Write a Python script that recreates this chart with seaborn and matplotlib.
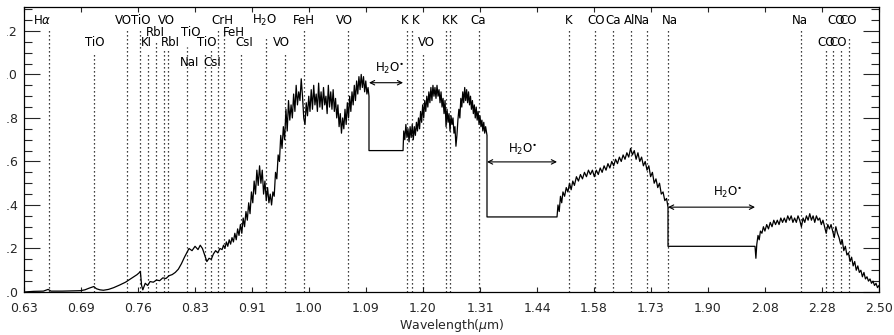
import numpy as np
import pandas as pd
import matplotlib
matplotlib.use("Agg")
import matplotlib.pyplot as plt
from matplotlib.transforms import Bbox, TransformedBbox
import seaborn as sns

# ---------------- data ----------------
# optical segment 0.63-1.10 um
wave_opt = [0.630, 0.640, 0.650, 0.655, 0.658, 0.670, 0.680, 0.690, 0.695, 0.700, 0.705, 0.708,
            0.712, 0.716, 0.722, 0.728, 0.735, 0.742, 0.748, 0.752, 0.756, 0.759, 0.760, 0.7615,
            0.763, 0.766, 0.769, 0.772, 0.776, 0.780, 0.784, 0.788, 0.792, 0.796, 0.800, 0.804,
            0.808, 0.812, 0.816, 0.819, 0.822, 0.826, 0.830, 0.834, 0.837, 0.840, 0.843, 0.846,
            0.849, 0.852, 0.855, 0.858, 0.861, 0.864, 0.867,
            0.869, 0.871, 0.873, 0.875, 0.877, 0.879, 0.881, 0.883, 0.885, 0.887, 0.889, 0.891,
            0.893, 0.895, 0.897, 0.899, 0.901, 0.903, 0.905, 0.907, 0.909, 0.911, 0.913, 0.915,
            0.917, 0.919, 0.921, 0.923, 0.925, 0.927, 0.929, 0.931, 0.933, 0.935, 0.937, 0.939,
            0.941, 0.943, 0.945, 0.947, 0.949, 0.951, 0.953, 0.955, 0.957, 0.959, 0.961, 0.963,
            0.965, 0.967, 0.969, 0.971, 0.973, 0.975, 0.977, 0.979, 0.981, 0.983, 0.985, 0.987,
            0.989, 0.991, 0.993, 0.995, 0.997, 0.999, 1.001, 1.003, 1.005, 1.007, 1.009, 1.011,
            1.013, 1.015, 1.017, 1.019, 1.021, 1.023, 1.025, 1.027, 1.029, 1.031, 1.033, 1.035,
            1.037, 1.039, 1.041, 1.043, 1.045, 1.047, 1.049, 1.051, 1.053, 1.055, 1.057, 1.059,
            1.061, 1.063, 1.065, 1.067, 1.069, 1.071, 1.073, 1.075, 1.077, 1.079, 1.081, 1.083,
            1.085, 1.087, 1.089, 1.091, 1.093, 1.095, 1.097, 1.0987]
flux_opt = [0.000, 0.003, 0.004, 0.012, 0.004, 0.004, 0.005, 0.006, 0.010, 0.018, 0.025, 0.015,
            0.010, 0.008, 0.012, 0.020, 0.032, 0.045, 0.060, 0.070, 0.080, 0.090, 0.095, 0.030,
            0.010, 0.040, 0.030, 0.048, 0.045, 0.055, 0.052, 0.065, 0.062, 0.075, 0.080, 0.090,
            0.105, 0.130, 0.160, 0.180, 0.200, 0.190, 0.210, 0.195, 0.215, 0.200, 0.170, 0.140,
            0.155, 0.150, 0.175, 0.190, 0.180, 0.200, 0.195,
            0.215, 0.20, 0.23, 0.21, 0.24, 0.22, 0.25, 0.23, 0.27, 0.24, 0.29, 0.26,
            0.31, 0.27, 0.34, 0.30, 0.37, 0.33, 0.41, 0.36, 0.46, 0.41, 0.51, 0.45,
            0.56, 0.49, 0.58, 0.50, 0.56, 0.45, 0.51, 0.42, 0.48, 0.41, 0.45, 0.40,
            0.46, 0.44, 0.55, 0.52, 0.63, 0.60, 0.72, 0.66, 0.76, 0.70, 0.84, 0.74,
            0.88, 0.79, 0.86, 0.80, 0.91, 0.83, 0.95, 0.86, 0.92, 0.88, 0.98, 0.90,
            0.80, 0.77, 0.87, 0.81, 0.90, 0.83, 0.93, 0.84, 0.95, 0.86, 0.91, 0.83,
            0.96, 0.85, 0.92, 0.84, 0.94, 0.86, 0.90, 0.82, 0.95, 0.85, 0.92, 0.84,
            0.93, 0.83, 0.89, 0.80, 0.86, 0.76, 0.82, 0.73, 0.80, 0.75, 0.84, 0.77,
            0.87, 0.80, 0.90, 0.83, 0.92, 0.86, 0.95, 0.88, 0.97, 0.91, 0.99, 0.93,
            1.00, 0.94, 0.99, 0.92, 0.97, 0.91, 0.94, 0.90]

# J segment 1.16-1.33 um
wave_j = [1.162, 1.164, 1.166, 1.168, 1.170, 1.172, 1.174, 1.176, 1.178, 1.180, 1.182, 1.184,
          1.186, 1.188, 1.190, 1.192, 1.194, 1.196, 1.198, 1.200, 1.202, 1.204, 1.206, 1.208,
          1.210, 1.212, 1.214, 1.216, 1.218, 1.220, 1.222, 1.224, 1.226, 1.228, 1.230, 1.232,
          1.234, 1.236, 1.238, 1.240, 1.242, 1.244, 1.246, 1.248, 1.250, 1.252, 1.254, 1.256,
          1.258, 1.260, 1.262, 1.264, 1.266, 1.268, 1.270, 1.272, 1.274, 1.276, 1.278, 1.280,
          1.282, 1.284, 1.286, 1.288, 1.290, 1.292, 1.294, 1.296, 1.298, 1.300, 1.302, 1.304,
          1.306, 1.308, 1.310, 1.312, 1.314, 1.316, 1.318, 1.320, 1.322, 1.324, 1.326, 1.3289]
flux_j = [0.74, 0.70, 0.77, 0.71, 0.75, 0.69, 0.76, 0.71, 0.77, 0.70, 0.76, 0.72,
          0.78, 0.74, 0.80, 0.75, 0.83, 0.78, 0.86, 0.80, 0.88, 0.83, 0.90, 0.85,
          0.92, 0.87, 0.94, 0.88, 0.95, 0.90, 0.94, 0.89, 0.95, 0.90, 0.93, 0.87,
          0.92, 0.85, 0.89, 0.82, 0.88, 0.76, 0.84, 0.78, 0.82, 0.74, 0.81, 0.77,
          0.80, 0.73, 0.76, 0.67, 0.72, 0.79, 0.84, 0.80, 0.89, 0.85, 0.92, 0.87,
          0.94, 0.88, 0.93, 0.87, 0.92, 0.86, 0.90, 0.84, 0.88, 0.82, 0.86, 0.80,
          0.85, 0.79, 0.83, 0.77, 0.81, 0.76, 0.79, 0.74, 0.78, 0.73, 0.76, 0.72]

# H segment 1.49-1.78 um
wave_h = [1.490, 1.493, 1.496, 1.499, 1.502, 1.506, 1.510, 1.514, 1.518, 1.522, 1.526,
          1.530, 1.535, 1.540, 1.545, 1.550, 1.555, 1.560, 1.565, 1.570, 1.575, 1.580, 1.585,
          1.590, 1.595, 1.600, 1.605, 1.610, 1.615, 1.620, 1.625, 1.630, 1.635, 1.640, 1.645,
          1.650, 1.655, 1.660, 1.665, 1.670, 1.675, 1.680, 1.685, 1.690, 1.695, 1.700, 1.705,
          1.710, 1.715, 1.720, 1.725, 1.730, 1.735, 1.740, 1.745, 1.750, 1.755, 1.760, 1.765,
          1.770, 1.775, 1.7792]
flux_h = [0.40, 0.37, 0.44, 0.41, 0.46, 0.44, 0.48, 0.46, 0.50, 0.47, 0.51,
          0.49, 0.53, 0.51, 0.54, 0.52, 0.55, 0.53, 0.56, 0.54, 0.56, 0.53, 0.56,
          0.54, 0.57, 0.55, 0.58, 0.56, 0.59, 0.57, 0.60, 0.58, 0.61, 0.59, 0.62,
          0.60, 0.63, 0.61, 0.64, 0.62, 0.66, 0.63, 0.65, 0.61, 0.64, 0.60, 0.62,
          0.58, 0.60, 0.56, 0.58, 0.53, 0.55, 0.50, 0.52, 0.48, 0.50, 0.45, 0.46,
          0.42, 0.43, 0.39]

# K segment 2.05-2.50 um
wave_k = [2.050, 2.053, 2.057, 2.061, 2.065, 2.070, 2.075, 2.080, 2.086, 2.092, 2.098,
          2.104, 2.110, 2.116, 2.122, 2.128, 2.134, 2.140, 2.146, 2.152, 2.158, 2.164, 2.170,
          2.176, 2.182, 2.188, 2.194, 2.200, 2.206, 2.212, 2.218, 2.224, 2.230, 2.236, 2.242,
          2.248, 2.254, 2.260, 2.266, 2.272, 2.278, 2.284, 2.290, 2.296, 2.302, 2.308, 2.314,
          2.320, 2.326, 2.332, 2.338, 2.344, 2.350, 2.356, 2.362, 2.368, 2.374, 2.380, 2.386,
          2.392, 2.398, 2.404, 2.410, 2.416, 2.422, 2.428, 2.434, 2.440, 2.446, 2.452, 2.458,
          2.464, 2.470, 2.476, 2.482, 2.488, 2.494, 2.500]
flux_k = [0.155, 0.22, 0.26, 0.24, 0.28, 0.27, 0.30, 0.28, 0.31, 0.29, 0.32,
          0.30, 0.33, 0.31, 0.33, 0.31, 0.34, 0.32, 0.34, 0.32, 0.35, 0.33, 0.35,
          0.32, 0.34, 0.32, 0.35, 0.33, 0.30, 0.34, 0.32, 0.35, 0.33, 0.36, 0.33,
          0.35, 0.32, 0.35, 0.33, 0.34, 0.31, 0.33, 0.30, 0.27, 0.31, 0.29, 0.31,
          0.28, 0.25, 0.30, 0.27, 0.25, 0.22, 0.24, 0.19, 0.21, 0.17, 0.18, 0.14,
          0.16, 0.12, 0.14, 0.10, 0.12, 0.09, 0.10, 0.07, 0.09, 0.06, 0.07, 0.05,
          0.06, 0.04, 0.05, 0.03, 0.04, 0.02, 0.03]

# H2O-masked gaps (flat fill level) and arrows
gap_start = [1.0987, 1.3289, 1.7792]
gap_end = [1.1607, 1.4877, 2.0471]
gap_fill = [0.65, 0.345, 0.21]
h2o_level = [0.962, 0.598, 0.390]
h2o_label_wave = [1.1366, 1.4084, 1.9599]
h2o_label_y = [1.028, 0.655, 0.458]

tick_labels = ["0.63", "0.69", "0.76", "0.83", "0.91", "1.00", "1.09", "1.20",
               "1.31", "1.44", "1.58", "1.73", "1.90", "2.08", "2.28", "2.50"]

# feature marker lines: wavelength and top of dotted line (flux units)
line_wave = [0.6563, 0.7053, 0.7434, 0.7590, 0.7699, 0.7800, 0.7900, 0.7948, 0.8190,
             0.8432, 0.8521, 0.8611, 0.8692, 0.8943, 0.9300, 0.9590, 0.9896, 1.0620,
             1.1690, 1.1773, 1.1990, 1.2432, 1.2522, 1.3120, 1.5168, 1.5817, 1.6280,
             1.6760, 1.7200, 1.7790, 2.2060, 2.2935, 2.3227, 2.3525, 2.3829]
line_top = [1.209, 1.103, 1.209, 1.209, 1.103, 1.154, 1.113, 1.113, 1.126,
            1.103, 1.113, 1.209, 1.209, 1.103, 1.177, 1.103, 1.209, 1.209,
            1.209, 1.209, 1.103, 1.209, 1.209, 1.209, 1.209, 1.209, 1.209,
            1.209, 1.209, 1.209, 1.209, 1.113, 1.113, 1.113, 1.168]

# feature labels
label_text = ["H$\\alpha$", "VO", "TiO", "VO", "CrH", "H$_2$O", "FeH", "VO", "K", "K",
              "K", "K", "Ca", "K", "CO", "Ca", "Al", "Na", "Na", "Na", "CO", "CO",
              "RbI", "TiO", "FeH",
              "TiO", "KI", "RbI", "TiO", "CsI", "VO", "VO", "CO", "CO",
              "NaI", "CsI"]
label_wave = [0.6485, 0.7390, 0.7608, 0.7921, 0.8669, 0.9291, 0.9894, 1.0553, 1.1645, 1.1852,
              1.2439, 1.2601, 1.3098, 1.5167, 1.5842, 1.6280, 1.6734, 1.7062, 1.7849, 2.2012,
              2.3326, 2.3783,
              0.7781, 0.8247, 0.8838,
              0.7064, 0.7670, 0.7972, 0.8462, 0.8982, 0.9534, 1.2044, 2.2953, 2.3401,
              0.8233, 0.8530]
label_row = [1.246] * 22 + [1.191] * 3 + [1.145] * 9 + [1.053] * 2

# ---------------- assemble spectrum ----------------
segs_w = [wave_opt, wave_j, wave_h, wave_k]
segs_f = [flux_opt, flux_j, flux_h, flux_k]
wave, flux = [], []
for i, (sw, sf) in enumerate(zip(segs_w, segs_f)):
    wave += sw
    flux += sf
    if i < len(gap_start):
        # vertical drop to the fill level, flat fill, then back up to the data
        wave += [gap_start[i], gap_end[i]]
        flux += [gap_fill[i], gap_fill[i]]
df = pd.DataFrame({"wave": wave, "flux": flux})

# ---------------- plot ----------------
sns.set_style("ticks")
plt.rcParams["font.family"] = ["DejaVu Sans"]
plt.rcParams["mathtext.fontset"] = "dejavusans"

W, H = 894, 335
fig = plt.figure(figsize=(W / 100, H / 100), dpi=100)
ax = fig.add_axes([24 / W, 1 - 292 / H, (879 - 24) / W, (292 - 7) / H])

ax.vlines(line_wave, 0, line_top, colors="k", linestyles=(0, (1, 2.2)), linewidth=0.9, zorder=1)

sns.lineplot(data=df, x="wave", y="flux", sort=False, estimator=None,
             color="k", linewidth=0.9, ax=ax, zorder=3)

for t, xw, yy in zip(label_text, label_wave, label_row):
    ax.text(xw, yy, t, ha="center", va="center", fontsize=8.5, color="k", zorder=4)

for x0, x1, lv, lx, ly in zip(gap_start, gap_end, h2o_level, h2o_label_wave, h2o_label_y):
    ax.annotate("", xy=(x0, lv), xytext=(x1, lv),
                arrowprops=dict(arrowstyle="<->", lw=0.8, color="k",
                                shrinkA=0, shrinkB=0, mutation_scale=8))
    ax.text(lx, ly, "H$_2$O$^{\\bullet}$", ha="center", va="center", fontsize=8.5, color="k")

ax.set_xscale("log")
ax.set_xlim(0.63, 2.50)
ax.set_ylim(0, 1.31)
ax.xaxis.set_major_locator(matplotlib.ticker.FixedLocator(np.geomspace(0.63, 2.50, len(tick_labels))))
ax.xaxis.set_major_formatter(matplotlib.ticker.FixedFormatter(tick_labels))
ax.xaxis.set_minor_locator(matplotlib.ticker.NullLocator())
ax.yaxis.set_major_locator(matplotlib.ticker.MultipleLocator(0.2))
ax.yaxis.set_minor_locator(matplotlib.ticker.MultipleLocator(0.05))
ax.yaxis.set_major_formatter(matplotlib.ticker.FormatStrFormatter("%.1f"))

ax.tick_params(axis="x", which="major", direction="in", length=3.8, width=0.8,
               top=True, bottom=True, labelsize=9, pad=7)
ax.tick_params(axis="y", which="major", direction="in", length=11.5, width=0.8,
               left=True, right=True, labelsize=9, pad=4.5)
ax.tick_params(axis="y", which="minor", direction="in", length=5.8, width=0.8,
               left=True, right=True)
for s in ax.spines.values():
    s.set_linewidth(0.9)
    s.set_color("k")

ax.set_xlabel("Wavelength($\\mu$m)", fontsize=9, labelpad=2)
ax.set_ylabel("")

# the reference's y labels run off the left edge of the figure; clip them the same way
clip = TransformedBbox(Bbox([[6.5 / W, 0], [1, 1]]), fig.transFigure)
fig.canvas.draw()
for lbl in ax.get_yticklabels():
    lbl.set_clip_on(True)
    lbl.set_clip_box(clip)

fig.savefig("out.png", dpi=100)
